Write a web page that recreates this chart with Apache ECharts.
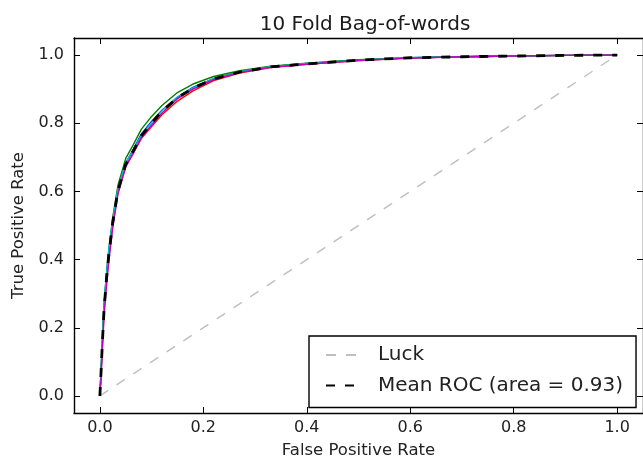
<!DOCTYPE html>
<html>
<head>
<meta charset="utf-8">
<script src="https://cdn.jsdelivr.net/npm/echarts@6/dist/echarts.min.js"></script>
<style>
  html, body { margin: 0; padding: 0; background: #fff; }
  #chart { width: 643px; height: 464px; }
</style>
</head>
<body>
<div id="chart"></div>
<script>
// false positive rate grid shared by every curve
const fpr = [0, 0.002, 0.005, 0.008, 0.012, 0.017, 0.025, 0.035, 0.05, 0.065, 0.08, 0.1, 0.12, 0.15, 0.18, 0.22, 0.27, 0.33, 0.4, 0.5, 0.6, 0.7, 0.8, 0.9, 1.0];

// true positive rate per fold (only the visible folds)
const foldBlue = [0, 0.06, 0.16, 0.26, 0.34, 0.42, 0.515, 0.605, 0.683, 0.724, 0.768, 0.805, 0.838, 0.876, 0.905, 0.931, 0.951, 0.966, 0.975, 0.985, 0.992, 0.995, 0.997, 0.999, 1.0];
const foldGreen = [0, 0.07, 0.17, 0.265, 0.345, 0.425, 0.525, 0.618, 0.697, 0.738, 0.782, 0.82, 0.852, 0.89, 0.915, 0.937, 0.954, 0.967, 0.976, 0.986, 0.992, 0.995, 0.997, 0.999, 1.0];
const foldRed = [0, 0.055, 0.15, 0.245, 0.325, 0.405, 0.505, 0.597, 0.674, 0.713, 0.755, 0.79, 0.825, 0.865, 0.895, 0.925, 0.947, 0.963, 0.973, 0.984, 0.991, 0.995, 0.997, 0.999, 1.0];
const foldCyan = [0, 0.065, 0.17, 0.265, 0.345, 0.425, 0.52, 0.608, 0.684, 0.722, 0.765, 0.802, 0.837, 0.877, 0.904, 0.931, 0.951, 0.966, 0.975, 0.985, 0.992, 0.995, 0.997, 0.999, 1.0];
const foldMagenta = [0, 0.045, 0.14, 0.23, 0.31, 0.39, 0.495, 0.592, 0.672, 0.713, 0.758, 0.795, 0.83, 0.872, 0.9, 0.928, 0.949, 0.964, 0.973, 0.984, 0.991, 0.995, 0.997, 0.999, 1.0];
const meanTpr = [0, 0.06, 0.16, 0.25, 0.33, 0.41, 0.51, 0.602, 0.68, 0.72, 0.763, 0.8, 0.835, 0.875, 0.903, 0.93, 0.95, 0.965, 0.974, 0.985, 0.992, 0.995, 0.997, 0.999, 1.0];

const luckX = [0, 1];
const luckY = [0, 1];

const tickValues = [0, 0.2, 0.4, 0.6, 0.8, 1.0];

const folds = [
  { data: foldBlue, color: "#0000ff" },
  { data: foldGreen, color: "#008000" },
  { data: foldRed, color: "#ff0000" },
  { data: foldCyan, color: "#00bfbf" },
  { data: foldMagenta, color: "#bf00bf" },
];

const font = "DejaVu Sans";
const pair = (xs, ys) => xs.map((x, i) => [x, ys[i]]);

function makeAxis(extra) {
  return Object.assign({
    type: "value",
    min: -0.05,
    max: 1.05,
    splitLine: { show: false },
    axisLine: { show: true, onZero: false, lineStyle: { color: "#000", width: 1.4 } },
    axisTick: {
      show: true, inside: true, length: 6,
      lineStyle: { color: "#000", width: 1 },
      customValues: tickValues,
    },
    axisLabel: {
      show: true,
      color: "#222",
      fontFamily: font,
      fontSize: 16,
      customValues: tickValues,
      formatter: (v) => v.toFixed(1),
    },
  }, extra);
}

const chart = echarts.init(document.getElementById("chart"));

const series = folds.map((f, i) => ({
  name: "fold " + (i + 1),
  type: "line",
  data: pair(fpr, f.data),
  showSymbol: false,
  symbol: "none",
  lineStyle: { color: f.color, width: 1.4, join: "round" },
  itemStyle: { color: f.color },
  silent: true,
}));

series.push({
  name: "Luck",
  type: "line",
  data: pair(luckX, luckY),
  symbol: "none",
  lineStyle: { color: "#bfbfbf", width: 1.4, type: [10, 10] },
  itemStyle: { color: "#bfbfbf" },
  silent: true,
});

series.push({
  name: "Mean ROC (area = 0.93)",
  type: "line",
  data: pair(fpr, meanTpr),
  symbol: "none",
  lineStyle: { color: "#000", width: 2.8, type: [9, 10], join: "round" },
  itemStyle: { color: "#000" },
  silent: true,
});

const option = {
  animation: false,
  backgroundColor: "#fff",
  title: {
    text: "10 Fold Bag-of-words",
    left: 360,
    top: 10,
    textAlign: "center",
    textStyle: { color: "#1a1a1a", fontFamily: font, fontSize: 20, fontWeight: "normal" },
  },
  grid: { left: 74, top: 38, width: 573.6, height: 379.5 },
  legend: {
    data: ["Luck", "Mean ROC (area = 0.93)"],
    orient: "vertical",
    left: 309,
    top: 336,
    itemWidth: 30,
    itemHeight: 14,
    itemGap: 10.5,
    padding: [9, 13, 12, 16],
    borderColor: "#000",
    borderWidth: 1.4,
    selectedMode: false,
    // hide the marker dot, keep only the dashed line sample
    itemStyle: { opacity: 0, color: "rgba(0,0,0,0)", borderWidth: 0 },
    textStyle: {
      color: "#222", fontFamily: font, fontSize: 20, lineHeight: 20,
      padding: [0, 0, 0, 17],
    },
  },
  xAxis: [
    makeAxis({
      position: "bottom",
      name: "False Positive Rate",
      nameLocation: "middle",
      nameGap: 29,
      nameTextStyle: { color: "#222", fontFamily: font, fontSize: 16.5 },
      axisLabel: Object.assign({}, makeAxis({}).axisLabel, { margin: 7 }),
    }),
    makeAxis({ position: "top", axisLabel: { show: false } }),
  ],
  yAxis: [
    makeAxis({
      position: "left",
      name: "True Positive Rate",
      nameLocation: "middle",
      nameGap: 46,
      nameTextStyle: { color: "#222", fontFamily: font, fontSize: 16.5 },
      axisLabel: Object.assign({}, makeAxis({}).axisLabel, { margin: 10 }),
    }),
    makeAxis({ position: "right", axisLabel: { show: false } }),
  ],
  series: series,
};

chart.setOption(option);
</script>
</body>
</html>
